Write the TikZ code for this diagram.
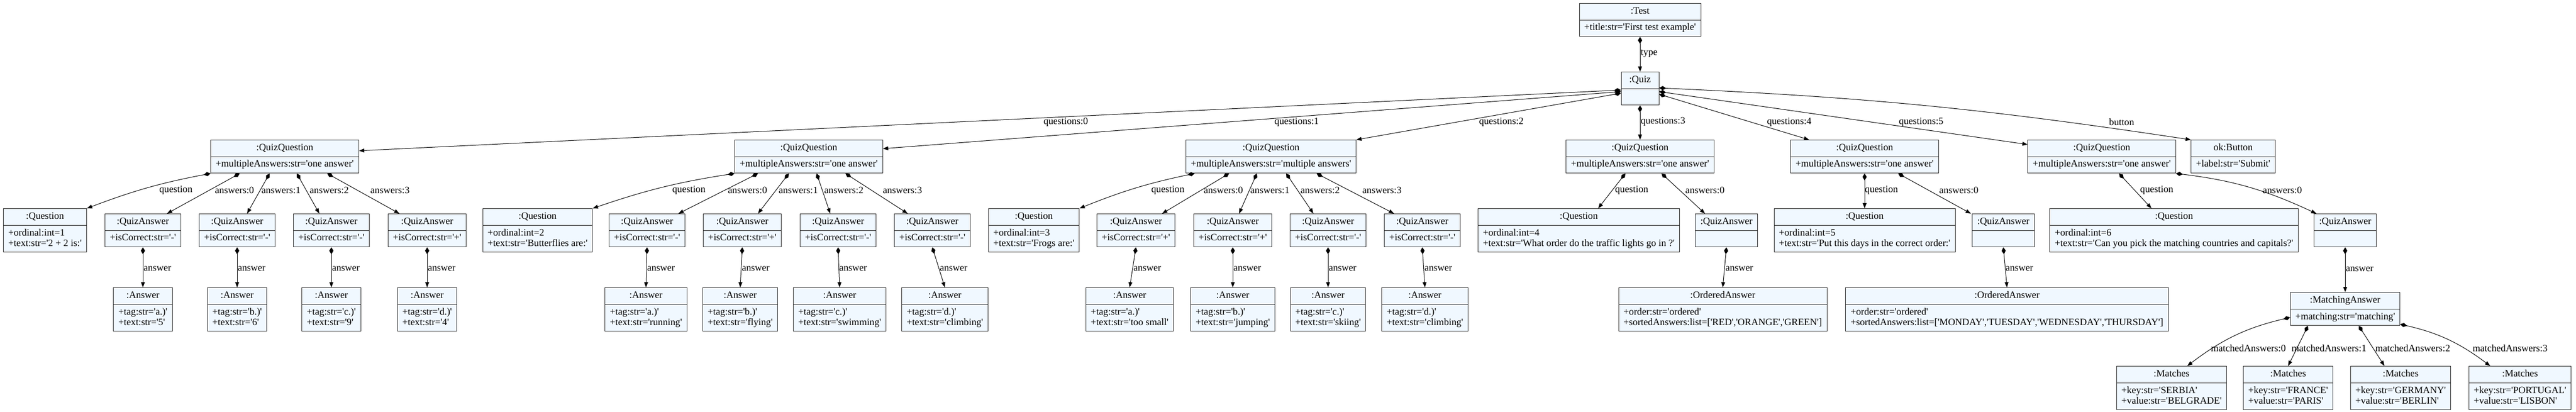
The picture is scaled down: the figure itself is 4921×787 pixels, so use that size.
\documentclass[tikz,border=0pt]{standalone}
\usepackage{fontspec}
\setmainfont{Liberation Serif}[Ligatures=TeXOff]
\usepackage{tikz}
\usetikzlibrary{shapes.multipart,arrows.meta,calc}
\definecolor{objfill}{HTML}{F0F8FF}
\tikzset{
  obj/.style={rectangle split, rectangle split parts=2, rectangle split part align={center,left}, align=left,
    draw=black!85, fill=objfill, line width=0.75pt, inner xsep=7pt, inner ysep=4pt, minimum width=54pt,
    anchor=north, font=\fontsize{14}{15}\selectfont},
  lbl/.style={inner sep=0pt, font=\fontsize{14}{15}\selectfont},
  comp/.style={arrows={Diamond[length=10pt,width=6pt]-Triangle[length=7.5pt,width=5.5pt]}, line width=0.75pt},
}
\begin{document}
\begin{tikzpicture}[x=0.75pt,y=-0.75pt]
\useasboundingbox (0,0) rectangle (4921,787);
        \path
        (3133,6) node[obj](Test) {\strut:Test\nodepart{two}\strut+title:str='First test example'}
        (3133,137) node[obj](Quiz) {\strut:Quiz\nodepart{two}\strut}
        (544,267) node[obj](QQ0) {\strut:QuizQuestion\nodepart{two}\strut+multipleAnswers:str='one answer'}
        (1545,267) node[obj](QQ1) {\strut:QuizQuestion\nodepart{two}\strut+multipleAnswers:str='one answer'}
        (2428,267) node[obj](QQ2) {\strut:QuizQuestion\nodepart{two}\strut+multipleAnswers:str='multiple answers'}
        (3133,267) node[obj](QQ3) {\strut:QuizQuestion\nodepart{two}\strut+multipleAnswers:str='one answer'}
        (3562,267) node[obj](QQ4) {\strut:QuizQuestion\nodepart{two}\strut+multipleAnswers:str='one answer'}
        (4015,267) node[obj](QQ5) {\strut:QuizQuestion\nodepart{two}\strut+multipleAnswers:str='one answer'}
        (4266,267) node[obj](Ok) {\strut ok:Button\nodepart{two}\strut+label:str='Submit'}
        (86,398) node[obj](Q0) {\strut:Question\nodepart{two}\strut+ordinal:int=1\\\strut+text:str='2 + 2 is:'}
        (1027,398) node[obj](Q1) {\strut:Question\nodepart{two}\strut+ordinal:int=2\\\strut+text:str='Butterflies are:'}
        (1975,398) node[obj](Q2) {\strut:Question\nodepart{two}\strut+ordinal:int=3\\\strut+text:str='Frogs are:'}
        (3016,398) node[obj](Q3) {\strut:Question\nodepart{two}\strut+ordinal:int=4\\\strut+text:str='What order do the traffic lights go in ?'}
        (3562,398) node[obj](Q4) {\strut:Question\nodepart{two}\strut+ordinal:int=5\\\strut+text:str='Put this days in the correct order:'}
        (4153,398) node[obj](Q5) {\strut:Question\nodepart{two}\strut+ordinal:int=6\\\strut+text:str='Can you pick the matching countries and capitals?'}
        (273,408) node[obj](QA00) {\strut:QuizAnswer\nodepart{two}\strut+isCorrect:str='-'}
        (453,408) node[obj](QA01) {\strut:QuizAnswer\nodepart{two}\strut+isCorrect:str='-'}
        (633,408) node[obj](QA02) {\strut:QuizAnswer\nodepart{two}\strut+isCorrect:str='-'}
        (816,408) node[obj](QA03) {\strut:QuizAnswer\nodepart{two}\strut+isCorrect:str='+'}
        (1236,408) node[obj](QA10) {\strut:QuizAnswer\nodepart{two}\strut+isCorrect:str='-'}
        (1418,408) node[obj](QA11) {\strut:QuizAnswer\nodepart{two}\strut+isCorrect:str='+'}
        (1601,408) node[obj](QA12) {\strut:QuizAnswer\nodepart{two}\strut+isCorrect:str='-'}
        (1781,408) node[obj](QA13) {\strut:QuizAnswer\nodepart{two}\strut+isCorrect:str='-'}
        (2170,408) node[obj](QA20) {\strut:QuizAnswer\nodepart{two}\strut+isCorrect:str='+'}
        (2355,408) node[obj](QA21) {\strut:QuizAnswer\nodepart{two}\strut+isCorrect:str='+'}
        (2537,408) node[obj](QA22) {\strut:QuizAnswer\nodepart{two}\strut+isCorrect:str='-'}
        (2717,408) node[obj](QA23) {\strut:QuizAnswer\nodepart{two}\strut+isCorrect:str='-'}
        (3298,408) node[obj](QA30) {\strut:QuizAnswer\nodepart{two}\strut}
        (3827,408) node[obj](QA40) {\strut:QuizAnswer\nodepart{two}\strut}
        (4480,408) node[obj](QA50) {\strut:QuizAnswer\nodepart{two}\strut}
        (273,549) node[obj](A00) {\strut:Answer\nodepart{two}\strut+tag:str='a.)'\\\strut+text:str='5'}
        (453,549) node[obj](A01) {\strut:Answer\nodepart{two}\strut+tag:str='b.)'\\\strut+text:str='6'}
        (633,549) node[obj](A02) {\strut:Answer\nodepart{two}\strut+tag:str='c.)'\\\strut+text:str='9'}
        (816,549) node[obj](A03) {\strut:Answer\nodepart{two}\strut+tag:str='d.)'\\\strut+text:str='4'}
        (1234,549) node[obj](A10) {\strut:Answer\nodepart{two}\strut+tag:str='a.)'\\\strut+text:str='running'}
        (1414,549) node[obj](A11) {\strut:Answer\nodepart{two}\strut+tag:str='b.)'\\\strut+text:str='flying'}
        (1604,549) node[obj](A12) {\strut:Answer\nodepart{two}\strut+tag:str='c.)'\\\strut+text:str='swimming'}
        (1805,549) node[obj](A13) {\strut:Answer\nodepart{two}\strut+tag:str='d.)'\\\strut+text:str='climbing'}
        (2158,549) node[obj](A20) {\strut:Answer\nodepart{two}\strut+tag:str='a.)'\\\strut+text:str='too small'}
        (2355,549) node[obj](A21) {\strut:Answer\nodepart{two}\strut+tag:str='b.)'\\\strut+text:str='jumping'}
        (2537,549) node[obj](A22) {\strut:Answer\nodepart{two}\strut+tag:str='c.)'\\\strut+text:str='skiing'}
        (2722,549) node[obj](A23) {\strut:Answer\nodepart{two}\strut+tag:str='d.)'\\\strut+text:str='climbing'}
        (3291,549) node[obj](OA3) {\strut:OrderedAnswer\nodepart{two}\strut+order:str='ordered'\\\strut+sortedAnswers:list=['RED','ORANGE','GREEN']}
        (3834,549) node[obj](OA4) {\strut:OrderedAnswer\nodepart{two}\strut+order:str='ordered'\\\strut+sortedAnswers:list=['MONDAY','TUESDAY','WEDNESDAY','THURSDAY']}
        (4480,558) node[obj](MA) {\strut:MatchingAnswer\nodepart{two}\strut+matching:str='matching'}
        (4254,699) node[obj,anchor=north east](M0) {\strut:Matches\nodepart{two}\strut+key:str='SERBIA'\\\strut+value:str='BELGRADE'}
        (4371,699) node[obj](M1) {\strut:Matches\nodepart{two}\strut+key:str='FRANCE'\\\strut+value:str='PARIS'}
        (4586,699) node[obj](M2) {\strut:Matches\nodepart{two}\strut+key:str='GERMANY'\\\strut+value:str='BERLIN'}
        (4814,699) node[obj](M3) {\strut:Matches\nodepart{two}\strut+key:str='PORTUGAL'\\\strut+value:str='LISBON'}
        ;

        \path
        (3134,102) node[lbl,anchor=west](Ltype) {type}
        (2036,233) node[lbl](Lq0) {questions:0}
        (2477,233) node[lbl](Lq1) {questions:1}
        (2868,233) node[lbl](Lq2) {questions:2}
        (3134,232) node[lbl,anchor=west](Lq3) {questions:3}
        (3418,233) node[lbl](Lq4) {questions:4}
        (3670,233) node[lbl](Lq5) {questions:5}
        (4053,233) node[lbl](Lbtn) {button}
        (336,363) node[lbl](Lq00) {question}
        (448,363) node[lbl](La00) {answers:0}
        (537,363) node[lbl](La01) {answers:1}
        (629,363) node[lbl](La02) {answers:2}
        (745,363) node[lbl](La03) {answers:3}
        (1316,363) node[lbl](Lq10) {question}
        (1428,363) node[lbl](La10) {answers:0}
        (1525,363) node[lbl](La11) {answers:1}
        (1612,363) node[lbl](La12) {answers:2}
        (1724,363) node[lbl](La13) {answers:3}
        (2231,363) node[lbl](Lq20) {question}
        (2337,363) node[lbl](La20) {answers:0}
        (2426,363) node[lbl](La21) {answers:1}
        (2522,363) node[lbl](La22) {answers:2}
        (2640,363) node[lbl](La23) {answers:3}
        (3117,363) node[lbl](Lq30) {question}
        (3257,363) node[lbl](La30) {answers:0}
        (3594,363) node[lbl](Lq40) {question}
        (3742,363) node[lbl](La40) {answers:0}
        (4120,363) node[lbl](Lq50) {question}
        (4360,363) node[lbl](La50) {answers:0}
        (274,513) node[lbl,anchor=west](Ln00) {answer}
        (454,513) node[lbl,anchor=west](Ln01) {answer}
        (634,513) node[lbl,anchor=west](Ln02) {answer}
        (817,513) node[lbl,anchor=west](Ln03) {answer}
        (1236,513) node[lbl,anchor=west](Ln10) {answer}
        (1417,513) node[lbl,anchor=west](Ln11) {answer}
        (1603,513) node[lbl,anchor=west](Ln12) {answer}
        (1795,513) node[lbl,anchor=west](Ln13) {answer}
        (2165,513) node[lbl,anchor=west](Ln20) {answer}
        (2356,513) node[lbl,anchor=west](Ln21) {answer}
        (2538,513) node[lbl,anchor=west](Ln22) {answer}
        (2721,513) node[lbl,anchor=west](Ln23) {answer}
        (3296,513) node[lbl,anchor=west](Ln30) {answer}
        (3831,513) node[lbl,anchor=west](Ln40) {answer}
        (4481,514) node[lbl,anchor=west](Ln50) {answer}
        (4295,665) node[lbl](Lm0) {matchedAnswers:0}
        (4449,665) node[lbl](Lm1) {matchedAnswers:1}
        (4609,665) node[lbl](Lm2) {matchedAnswers:2}
        (4795,665) node[lbl](Lm3) {matchedAnswers:3}
        ;

        \draw[comp] (Test.south) -- (Quiz.north);
        \draw[comp] ($(Quiz.north west)+(0,35)$) -- ($(QQ0.north east)+(0,21)$);
        \draw[comp] ($(Quiz.north west)+(0,38)$) -- ($(QQ1.north east)+(0,17)$);
        \draw[comp] ($(Quiz.north west)+(0,41)$) -- (QQ2.north east);
        \draw[comp] (Quiz.south) -- (QQ3.north);
        \draw[comp] ($(Quiz.north east)+(0,43)$) -- ($(QQ4.north)+(-106,0)$);
        \draw[comp] ($(Quiz.north east)+(0,38)$) -- ($(QQ5.north west)+(0,9)$);
        \draw[comp] ($(Quiz.north east)+(0,31)$) to[bend left=3] (Ok.north west);

        \draw[comp] (QQ0.south west) to[bend right=5] (Q0.north east);
        \draw[comp] ($(QQ0.south)+(-86,0)$) -- ($(QA00.north)+(46,0)$);
        \draw[comp] ($(QQ0.south)+(-29,0)$) -- ($(QA01.north)+(19,0)$);
        \draw[comp] ($(QQ0.south)+(23,0)$) -- ($(QA02.north)+(-23,0)$);
        \draw[comp] ($(QQ0.south)+(81,0)$) -- ($(QA03.north)+(-53,0)$);
        \draw[comp] (QQ1.south west) to[bend right=5] (Q1.north east);
        \draw[comp] ($(QQ1.south)+(-97,0)$) -- ($(QA10.north)+(60,0)$);
        \draw[comp] ($(QQ1.south)+(-38,0)$) -- ($(QA11.north)+(30,0)$);
        \draw[comp] ($(QQ1.south)+(15,0)$) -- ($(QA12.north)+(-15,0)$);
        \draw[comp] ($(QQ1.south)+(70,0)$) -- ($(QA13.north)+(-47,0)$);
        \draw[comp] ($(QQ2.south west)+(17,0)$) to[bend right=5] (Q2.north east);
        \draw[comp] ($(QQ2.south)+(-80,0)$) -- ($(QA20.north)+(50,0)$);
        \draw[comp] ($(QQ2.south)+(-27,0)$) -- ($(QA21.north)+(12,0)$);
        \draw[comp] ($(QQ2.south)+(29,0)$) -- ($(QA22.north)+(-28,0)$);
        \draw[comp] ($(QQ2.south)+(87,0)$) -- ($(QA23.north)+(-54,0)$);
        \draw[comp] ($(QQ3.south)+(-28,0)$) -- ($(Q3.north)+(37,0)$);
        \draw[comp] ($(QQ3.south)+(41,0)$) -- ($(QA30.north)+(-41,0)$);
        \draw[comp] (QQ4.south) -- (Q4.north);
        \draw[comp] ($(QQ4.south)+(64,0)$) -- ($(QA40.north)+(-62,0)$);
        \draw[comp] ($(QQ5.south)+(33,0)$) -- ($(Q5.north)+(-43,0)$);
        \draw[comp] (QQ5.south east) to[bend left=9] ($(QA50.north)+(-55,0)$);

        \draw[comp] (QA00.south) -- (A00.north);
        \draw[comp] (QA01.south) -- (A01.north);
        \draw[comp] (QA02.south) -- (A02.north);
        \draw[comp] (QA03.south) -- (A03.north);
        \draw[comp] (QA10.south) -- (A10.north);
        \draw[comp] (QA11.south) -- (A11.north);
        \draw[comp] (QA12.south) -- (A12.north);
        \draw[comp] (QA13.south) -- (A13.north);
        \draw[comp] (QA20.south) -- (A20.north);
        \draw[comp] (QA21.south) -- (A21.north);
        \draw[comp] (QA22.south) -- (A22.north);
        \draw[comp] (QA23.south) -- (A23.north);
        \draw[comp] (QA30.south) -- (OA3.north);
        \draw[comp] (QA40.south) -- (OA4.north);
        \draw[comp] (QA50.south) -- (MA.north);

        \draw[comp] ($(MA.south west)+(0,-16)$) to[bend right=12] ($(M0.north)+(30,0)$);
        \draw[comp] ($(MA.south)+(-71,0)$) -- (M1.north);
        \draw[comp] ($(MA.south)+(26,0)$) -- ($(M2.north)+(-31,0)$);
        \draw[comp] ($(MA.south east)+(0,-3)$) to[bend left=12] ($(M3.north)+(-57,0)$);
      \end{tikzpicture}
\end{document}
